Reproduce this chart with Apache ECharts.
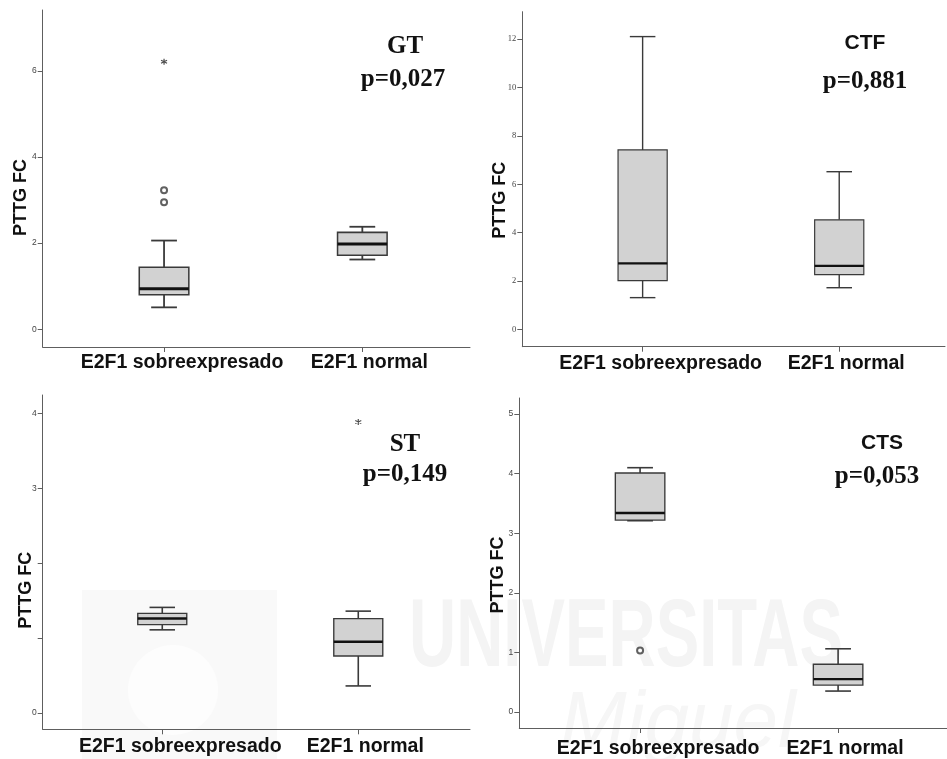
<!DOCTYPE html>
<html>
<head>
<meta charset="utf-8">
<script src="https://cdn.jsdelivr.net/npm/echarts@6/dist/echarts.min.js"></script>
<style>
  html, body { margin: 0; padding: 0; background: #fff; }
  #chart { width: 947px; height: 759px; }
</style>
</head>
<body>
<div id="chart"></div>
<script>
// Groups on the x axis
const categories = ['E2F1 sobreexpresado', 'E2F1 normal'];

// Box statistics per group: [lower whisker, Q1, median, Q3, upper whisker]
const gtBoxes  = [[0.51, 0.80, 0.94, 1.44, 2.06], [1.62, 1.72, 1.98, 2.25, 2.38]];
const ctfBoxes = [[1.31, 2.01, 2.73, 7.42, 12.11], [1.72, 2.26, 2.62, 4.53, 6.52]];
const stBoxes  = [[1.11, 1.18, 1.26, 1.33, 1.41], [0.36, 0.76, 0.95, 1.26, 1.36]];
const ctsBoxes = [[3.21, 3.22, 3.34, 4.01, 4.10], [0.35, 0.45, 0.55, 0.80, 1.06]];

// Outliers (o) and extreme values (*): [group position, value]
const gtOutliers  = [[1, 3.23], [1, 2.95]];
const gtExtremes  = [[1, 6.21]];
const ctfOutliers = [];
const ctfExtremes = [];
const stOutliers  = [];
const stExtremes  = [[2, 3.89]];
const ctsOutliers = [[1, 1.03]];
const ctsExtremes = [];

// Y tick positions and the tick labels printed beside them
const gtTicks  = [0, 2, 4, 6];
const ctfTicks = [0, 2, 4, 6, 8, 10, 12];
const stTicks  = [0, 1, 2, 3, 4];
const stLabels = [0, 3, 4];
const ctsTicks = [0, 1, 2, 3, 4, 5];

// Panel headings
const tissueNames = ['GT', 'CTF', 'ST', 'CTS'];
const pValues = ['p=0,027', 'p=0,881', 'p=0,149', 'p=0,053'];

const SANS = 'Liberation Sans, Arial, sans-serif';
const SERIF = 'Liberation Serif, Times New Roman, serif';
const AXIS_COLOR = '#5e5e5e';

const panels = [
  { grid: { left: 42.7, top: 10, width: 427.3, height: 337 }, y: [-0.41, 7.41], x: [0.388, 2.543],
    ticks: gtTicks, labels: gtTicks, boxes: gtBoxes, outliers: gtOutliers, extremes: gtExtremes,
    tickFont: SANS, nameShift: 19, nameGap: 13, medianW: 3, lineW: 1.8,
    catMargin: 6, titleFont: SERIF, head: [405, 47], pPos: [403, 80] },
  { grid: { left: 522.3, top: 11.7, width: 422.7, height: 335 }, y: [-0.72, 13.14], x: [0.388, 2.538],
    ticks: ctfTicks, labels: ctfTicks, boxes: ctfBoxes, outliers: ctfOutliers, extremes: ctfExtremes,
    tickFont: SERIF, nameShift: 21, nameGap: 13, medianW: 2.2, lineW: 1.4,
    catMargin: 7, titleFont: SANS, head: [865, 43], pPos: [865, 82] },
  { grid: { left: 42.7, top: 395, width: 427.3, height: 334.3 }, y: [-0.22, 4.25], x: [0.39, 2.57],
    ticks: stTicks, labels: stLabels, boxes: stBoxes, outliers: stOutliers, extremes: stExtremes,
    tickFont: SANS, nameShift: 28, nameGap: 8, medianW: 2.5, lineW: 1.6,
    catMargin: 7, titleFont: SERIF, head: [405, 445], pPos: [405, 475] },
  { grid: { left: 519.3, top: 398, width: 427.7, height: 333 }, y: [-0.27, 5.27], x: [0.39, 2.55],
    ticks: ctsTicks, labels: ctsTicks, boxes: ctsBoxes, outliers: ctsOutliers, extremes: ctsExtremes,
    tickFont: SANS, nameShift: 12, nameGap: 12, medianW: 2.4, lineW: 1.6,
    catMargin: 11, titleFont: SANS, head: [882, 443], pPos: [877, 477] }
];

// Asterisk marker for extreme values
const ASTERISK = 'path://M5,0L5,10M0.7,2.5L9.3,7.5M0.7,7.5L9.3,2.5';

function makeBoxRenderer(panel) {
  return function (params, api) {
    const x = api.value(0);
    const lo = api.coord([x, api.value(1)]);
    const q1 = api.coord([x, api.value(2)]);
    const med = api.coord([x, api.value(3)]);
    const q3 = api.coord([x, api.value(4)]);
    const hi = api.coord([x, api.value(5)]);
    const bw = api.size([0.25, 0])[0];
    const cw = api.size([0.065, 0])[0];
    const cx = lo[0];
    const stroke = { stroke: '#3a3a3a', lineWidth: panel.lineW, fill: null };
    return {
      type: 'group',
      children: [
        { type: 'line', shape: { x1: cx, y1: q3[1], x2: cx, y2: hi[1] }, style: stroke },
        { type: 'line', shape: { x1: cx, y1: q1[1], x2: cx, y2: lo[1] }, style: stroke },
        { type: 'line', shape: { x1: cx - cw, y1: hi[1], x2: cx + cw, y2: hi[1] }, style: stroke },
        { type: 'line', shape: { x1: cx - cw, y1: lo[1], x2: cx + cw, y2: lo[1] }, style: stroke },
        { type: 'rect', shape: { x: cx - bw / 2, y: q3[1], width: bw, height: q1[1] - q3[1] },
          style: { fill: '#d2d2d2', stroke: '#3a3a3a', lineWidth: panel.lineW * 0.85 } },
        { type: 'line', shape: { x1: cx - bw / 2, y1: med[1], x2: cx + bw / 2, y2: med[1] },
          style: { stroke: '#111', lineWidth: panel.medianW } }
      ]
    };
  };
}

const option = {
  animation: false,
  backgroundColor: '#fff',
  grid: [], xAxis: [], yAxis: [], series: [], graphic: []
};

panels.forEach(function (p, i) {
  option.grid.push(Object.assign({ containLabel: false }, p.grid));

  option.xAxis.push({
    type: 'value', gridIndex: i, min: p.x[0], max: p.x[1],
    splitLine: { show: false },
    axisLine: { show: true, onZero: false, lineStyle: { color: AXIS_COLOR, width: 1 } },
    axisTick: { show: true, customValues: [1, 2], length: 5, lineStyle: { color: AXIS_COLOR } },
    axisLabel: {
      customValues: [1, 2], margin: p.catMargin,
      formatter: function (v) { return v === 1 ? '{a|' + categories[0] + '}' : '{b|' + categories[1] + '}'; },
      rich: {
        a: { fontFamily: SANS, fontWeight: 'bold', fontSize: 19.5, color: '#111', padding: [0, 0, 0, 36] },
        b: { fontFamily: SANS, fontWeight: 'bold', fontSize: 19.5, color: '#111', padding: [0, 0, 0, 14] }
      }
    }
  });

  // The trailing spacer token slides the axis title down along the axis
  const nameRich = {
    t: { fontFamily: SANS, fontWeight: 'bold', fontSize: 18, color: '#111' },
    g: { width: p.nameShift * 2, fontSize: 18 }
  };

  option.yAxis.push({
    type: 'value', gridIndex: i, min: p.y[0], max: p.y[1],
    name: '{t|PTTG FC}{g| }', nameLocation: 'middle', nameRotate: 90, nameGap: p.nameGap,
    nameMoveOverlap: false,
    nameTextStyle: { rich: nameRich },
    splitLine: { show: false },
    axisLine: { show: true, onZero: false, lineStyle: { color: AXIS_COLOR, width: 1 } },
    axisTick: { show: true, customValues: p.ticks, length: 5, lineStyle: { color: AXIS_COLOR } },
    axisLabel: { customValues: p.labels, margin: 6, fontSize: 8.5, color: '#444', fontFamily: p.tickFont }
  });

  option.series.push({
    type: 'custom', xAxisIndex: i, yAxisIndex: i,
    renderItem: makeBoxRenderer(p),
    encode: { x: 0, y: [1, 2, 3, 4, 5] },
    data: p.boxes.map(function (b, k) { return [k + 1].concat(b); }),
    z: 3
  });

  option.series.push({
    type: 'scatter', xAxisIndex: i, yAxisIndex: i,
    symbol: 'emptyCircle', symbolSize: 6,
    itemStyle: { color: '#3a3a3a', borderColor: '#3a3a3a', borderWidth: 1 },
    data: p.outliers, z: 4
  });

  option.series.push({
    type: 'scatter', xAxisIndex: i, yAxisIndex: i,
    symbol: ASTERISK, symbolSize: 6,
    itemStyle: { color: 'transparent', borderColor: '#222', borderWidth: 1.2 },
    data: p.extremes, z: 4
  });

  option.graphic.push({
    type: 'text', x: p.head[0], y: p.head[1], z: 10,
    style: { text: tissueNames[i], align: 'center', verticalAlign: 'middle',
             font: 'bold ' + (p.titleFont === SERIF ? 25 : 21) + 'px ' + p.titleFont, fill: '#111' }
  });
  option.graphic.push({
    type: 'text', x: p.pPos[0], y: p.pPos[1], z: 10,
    style: { text: pValues[i], align: 'center', verticalAlign: 'middle',
             font: 'bold 25px ' + SERIF, fill: '#111' }
  });
});

// Faint repository watermark behind the lower panels
option.graphic.push({
  type: 'group', z: -5, silent: true,
  children: [
    { type: 'rect', shape: { x: 82, y: 590, width: 195, height: 169 }, style: { fill: '#f9f9f9' } },
    { type: 'circle', shape: { cx: 173, cy: 690, r: 45 }, style: { fill: '#fdfdfd' } },
    { type: 'text', x: 409, y: 640, scaleX: 0.68,
      style: { text: 'UNIVERSITAS', align: 'left', verticalAlign: 'middle',
               font: 'bold 96px ' + SANS, fill: '#f4f4f4' } },
    { type: 'text', x: 560, y: 725,
      style: { text: 'Miguel', align: 'left', verticalAlign: 'middle',
               font: 'italic 80px ' + SANS, fill: '#f6f6f6' } }
  ]
});

const chart = echarts.init(document.getElementById('chart'), null, { renderer: 'canvas' });
chart.setOption(option);
</script>
</body>
</html>
